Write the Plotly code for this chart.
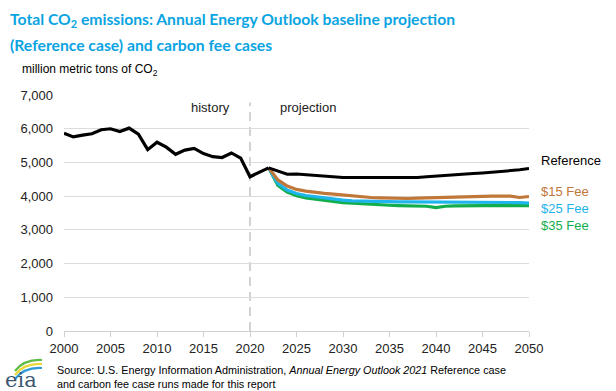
import plotly.graph_objects as go

years_hist = list(range(2000, 2023))
hist = [5864, 5758, 5809, 5851, 5969, 5999, 5919, 6017, 5837, 5378, 5599, 5454,
        5241, 5366, 5416, 5262, 5171, 5145, 5281, 5130, 4575, 4720, 4840]

years_proj = list(range(2022, 2051))
reference = [4840, 4740, 4650, 4660, 4640, 4600, 4580, 4570, 4555, 4550, 4550, 4550, 4545,
             4545, 4550, 4550, 4555, 4575, 4590, 4610, 4630, 4650, 4670, 4690,
             4710, 4730, 4750, 4780, 4820]
fee15 = [4840, 4480, 4300, 4200, 4150, 4110, 4080, 4060, 4030, 4000, 3980, 3960, 3950,
         3940, 3930, 3930, 3940, 3950, 3950, 3960, 3970, 3980, 3990, 4000, 4000,
         4000, 4000, 3960, 3990]
fee25 = [4840, 4380, 4180, 4080, 4020, 3980, 3940, 3910, 3880, 3860, 3850, 3840, 3830,
         3830, 3830, 3830, 3830, 3830, 3820, 3820, 3830, 3830, 3830, 3830, 3830,
         3830, 3830, 3810, 3790]
fee35 = [4840, 4320, 4120, 4010, 3950, 3910, 3870, 3840, 3810, 3790, 3770, 3760, 3740,
         3730, 3720, 3720, 3720, 3700, 3660, 3700, 3710, 3720, 3720, 3720, 3720,
         3720, 3720, 3720, 3720]

series_names = ["Reference", "$15 Fee", "$25 Fee", "$35 Fee"]
series_colors = ["#000000", "#C0783A", "#1EB4EC", "#12AE4C"]
label_y = [5060, 4130, 3630, 3130]

x_ticks = list(range(2000, 2051, 5))
y_ticks = list(range(0, 7001, 1000))
y_tick_text = [f"{v:,}" for v in y_ticks]

W, H = 616, 391
ML, MR, MT, MB = 64, 87, 95, 60
PW, PH = W - ML - MR, H - MT - MB


def px(x):
    return (x - ML) / PW


def py(y):
    return (H - MB - y) / PH


fig = go.Figure()
for name, vals, col in [("$35 Fee", fee35, series_colors[3]),
                        ("$25 Fee", fee25, series_colors[2]),
                        ("$15 Fee", fee15, series_colors[1])]:
    fig.add_trace(go.Scatter(x=years_proj, y=vals, mode="lines", name=name,
                             line=dict(color=col, width=3.2)))
fig.add_trace(go.Scatter(x=years_proj, y=reference, mode="lines", name="Reference",
                         line=dict(color="#000000", width=3)))
fig.add_trace(go.Scatter(x=years_hist, y=hist, mode="lines", name="History",
                         line=dict(color="#000000", width=3.2)))

font_main = "Liberation Sans, Arial, sans-serif"

fig.update_layout(
    width=W, height=H,
    margin=dict(l=ML, r=MR, t=MT, b=MB),
    paper_bgcolor="white", plot_bgcolor="white",
    showlegend=False,
    font=dict(family=font_main, size=13, color="#222222"),
    xaxis=dict(range=[2000, 2050], tickvals=x_ticks, showgrid=False,
               showline=True, linecolor="#D0D0D0", linewidth=1,
               ticks="outside", ticklen=5, tickcolor="#D0D0D0",
               tickfont=dict(size=13, color="#222222"), zeroline=False, fixedrange=True),
    yaxis=dict(range=[0, 7000], tickvals=y_ticks, ticktext=y_tick_text,
               showgrid=True, gridcolor="#DCDCDC", gridwidth=1, zeroline=False,
               ticklabelstandoff=10,
               tickfont=dict(size=13, color="#222222"), ticks="", fixedrange=True),
)

# divider between history and projection
fig.add_shape(type="line", xref="x", yref="y", x0=2020, x1=2020, y0=0, y1=6780,
              line=dict(color="#D3D3D3", width=2, dash="9px,6px"), layer="below")

fig.add_annotation(x=2020, y=7300, xref="x", yref="y", text="<b>2020</b>",
                   showarrow=False, font=dict(size=13, color="#000"))
fig.add_annotation(x=2018.1, y=6620, xref="x", yref="y", text="history",
                   showarrow=False, xanchor="right", font=dict(size=13, color="#222"))
fig.add_annotation(x=2023.0, y=6620, xref="x", yref="y", text="projection",
                   showarrow=False, xanchor="left", font=dict(size=13, color="#222"))

for name, col, ly in zip(series_names, series_colors, label_y):
    fig.add_annotation(x=2050, y=ly, xref="x", yref="y", text=name, showarrow=False,
                       xanchor="left", xshift=10, font=dict(size=13, color=col))

# title (two lines)
title_font = dict(family="Lato, Carlito, sans-serif", size=15.7, color="#0AA4E2")
fig.add_annotation(x=px(8), y=py(20), xref="paper", yref="paper", xanchor="left",
                   yanchor="middle", showarrow=False, font=title_font,
                   text="<b>Total CO<sub>2</sub> emissions: Annual Energy Outlook baseline projection</b>")
fig.add_annotation(x=px(8), y=py(45), xref="paper", yref="paper", xanchor="left",
                   yanchor="middle", showarrow=False, font=title_font,
                   text="<b>(Reference case) and carbon fee cases</b>")

# y-axis unit label
fig.add_annotation(x=px(20), y=py(70), xref="paper", yref="paper",
                   xanchor="left", yanchor="middle", showarrow=False,
                   text="million metric tons of CO<sub>2</sub>",
                   font=dict(size=12, color="#000"))

# logo
arc_specs = [("#5DBB46", 360), ("#E8D83A", 364), ("#2E9BD6", 368)]
for col, y0 in arc_specs:
    path = (f"M {px(15)},{py(y0 + 11)} Q {px(24)},{py(y0 - 1)} {px(42)},{py(y0)}")
    fig.add_shape(type="path", xref="paper", yref="paper", path=path,
                  line=dict(color=col, width=2.2))
fig.add_annotation(x=px(3), y=py(380), xref="paper", yref="paper",
                   xanchor="left", yanchor="middle", showarrow=False, text="eia",
                   font=dict(family="DejaVu Serif, serif", size=21, color="#3D5870"))

# source
fig.add_annotation(x=px(55), y=py(370), xref="paper", yref="paper",
                   xanchor="left", yanchor="middle", showarrow=False,
                   text="Source: U.S. Energy Information Administration, <i>Annual Energy Outlook 2021</i> Reference case",
                   font=dict(size=10.8, color="#000"))
fig.add_annotation(x=px(55), y=py(384), xref="paper", yref="paper",
                   xanchor="left", yanchor="middle", showarrow=False,
                   text="and carbon fee case runs made for this report",
                   font=dict(size=10.8, color="#000"))

fig.write_html("out.html", config={"displayModeBar": False},
               post_script="document.body.style.margin='0';document.body.style.overflow='hidden';")
